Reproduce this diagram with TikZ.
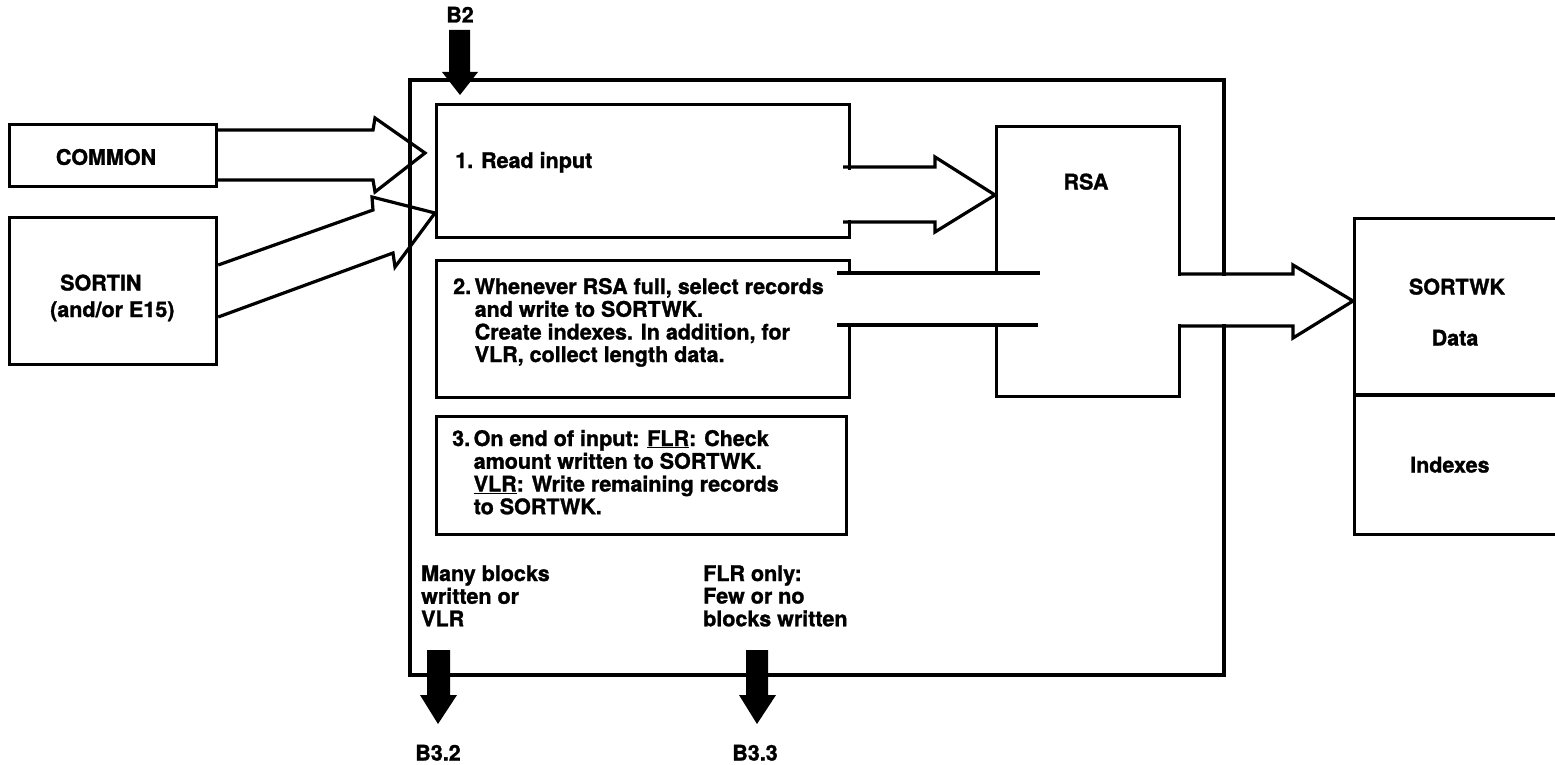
\documentclass[tikz,border=0pt]{standalone}
\usepackage{fontspec}
\setmainfont{TeX Gyre Heros}[BoldFeatures={FakeBold=1.3}]
\begin{document}
\begin{tikzpicture}[x=1pt,y=-1pt,
  line join=miter,
  box/.style={draw, line width=3.2pt, inner sep=0pt, anchor=north west},
  outerbox/.style={draw, line width=3.8pt, inner sep=0pt, anchor=north west},
  txt/.style={font=\bfseries\fontsize{21.5}{22.5}\selectfont, inner sep=0pt},
  hollow/.style={draw, line width=3.2pt},
  eraser/.style={fill=white, draw=none},
  fat/.style={fill=black, draw=none}
]
\useasboundingbox (0,0) rectangle (1555,765);

% boxes
\node[box, minimum width=207pt, minimum height=62pt] (common) at (8,123) {};
\node[box, minimum width=207pt, minimum height=147pt] (sortin) at (8,216) {};
\node[outerbox, minimum width=814pt, minimum height=595pt] (outer) at (408,78) {};
\node[box, minimum width=413pt, minimum height=133pt] (read) at (435,103) {};
\node[box, minimum width=413pt, minimum height=137pt] (sel) at (435,259) {};
\node[box, minimum width=410pt, minimum height=118pt] (eoi) at (435,415) {};
\node[box, minimum width=183pt, minimum height=270pt] (rsa) at (995,125) {};
\node[box, minimum width=260pt, minimum height=316pt] (sortwk) at (1353,217) {};
\draw[line width=3.2pt] (sortwk.west |- 0,395) coordinate (divl) -- (1560,395) coordinate (divr);

% texts
\node[txt] (tcommon) at (106,157) {COMMON};
\node[txt, anchor=base west] (tsortin) at (60,290.5) {SORTIN};
\node[txt, anchor=base west] (tsortin2) at (50,317) {(and/or E15)};
\node[txt, anchor=base west] (tread) at (455,168) {1. Read input};
\node[txt, anchor=base west] (tsel) at (453,294) {\begin{tabular}[t]{@{}l@{\,}l@{}}2. & Whenever RSA full, select records\\ & and write to SORTWK.\\ & Create indexes. In addition, for\\ & VLR, collect length data.\end{tabular}};
\node[txt, anchor=base west] (teoi) at (452,446) {\begin{tabular}[t]{@{}l@{\,}l@{}}3. & On end of input: \underline{FLR}: Check\\ & amount written to SORTWK.\\ & \underline{VLR}: Write remaining records\\ & to SORTWK.\end{tabular}};
\node[txt, anchor=base] (trsa) at (1086,189.5) {RSA};
\node[txt, anchor=base] (tsortwk) at (1457,294.5) {SORTWK};
\node[txt, anchor=base] (tdata) at (1455,345.5) {Data};
\node[txt, anchor=base west] (tindex) at (1410,472.5) {Indexes};
\node[txt, anchor=base west] (tmany) at (421,581) {\begin{tabular}[t]{@{}l@{}}Many blocks\\ written or\\ VLR\end{tabular}};
\node[txt, anchor=base west] (tflr) at (703,581) {\begin{tabular}[t]{@{}l@{}}FLR only:\\ Few or no\\ blocks written\end{tabular}};
\node[txt, anchor=base] (tb2) at (460,22.5) {B2};
\node[txt, anchor=base] (tb32) at (438,760.5) {B3.2};
\node[txt, anchor=base] (tb33) at (755,760.5) {B3.3};

% hollow arrows into Read input
\draw[hollow] (common.east |- 0,130) -- (373,130) -- (375,118) -- (425,153) -- (375,192) -- (373,180) -- (common.east |- 0,180);
\draw[hollow] (sortin.east |- 0,265) -- (373,210) -- (372,197) -- (read.west |- 0,213) -- (395,267) -- (393,253) -- (sortin.east |- 0,317);

% Read input -> RSA
\fill[eraser] (846,169.5) rectangle (851,219.5);
\draw[hollow] (843,167) -- (935,167) -- (935,157) -- (rsa.west |- 0,195) -- (935,232) -- (935,222) -- (843,222);

% band from step 2 into RSA
\fill[eraser] (845,275) rectangle (998,323);
\draw[hollow] (837,273) -- (1040,273);
\draw[hollow] (837,325) -- (1038,325);

% RSA -> SORTWK
\fill[eraser] (1175,276) rectangle (1226,324);
\draw[hollow] (rsa.east |- 0,274) -- (1293,274) -- (1293,265) -- (sortwk.west |- 0,301) -- (1293,338) -- (1293,326) -- (rsa.east |- 0,326);

% fat arrows
\fill[fat] (449,30) -- (470,30) -- (470,72) -- (478,72) -- (460,95) -- (442,72) -- (449,72) -- cycle;
\fill[fat] (427,650) -- (450,650) -- (450,695) -- (457,695) -- (438,724) -- (420,695) -- (427,695) -- cycle;
\fill[fat] (746,650) -- (768,650) -- (768,695) -- (776,695) -- (757,724) -- (739,695) -- (746,695) -- cycle;
\end{tikzpicture}
\end{document}
